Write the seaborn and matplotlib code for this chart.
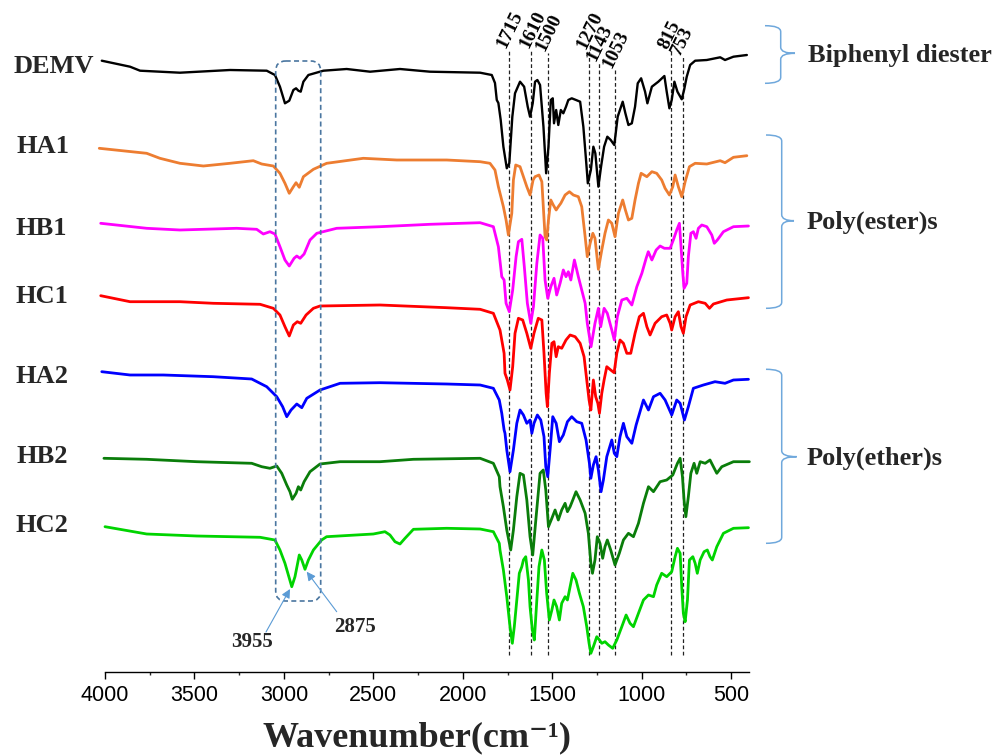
import matplotlib
matplotlib.use("Agg")
import matplotlib.pyplot as plt
import seaborn as sns
import pandas as pd
from matplotlib.path import Path
from matplotlib.patches import PathPatch, FancyBboxPatch

sns.set_style("white")
plt.rcParams["font.family"] = ["Liberation Serif", "DejaVu Serif"]

# ---------------- data (wavenumber cm-1, stacked transmittance a.u.) ----------------
sample_names = ["DEMV", "HA1", "HB1", "HC1", "HA2", "HB2", "HC2"]
sample_colors = ["#000000", "#ED7D31", "#FF00FF", "#FF0000", "#0000FF", "#0A7D0A", "#00D400"]

demv = [(4018,611.3),(3860,605.3),(3804,601.3),(3581,599.3),(3301,602),(3096,601.3),(3050,597),(3022,585.3),
        (2994,568.7),(2970,571.3),(2947,582),(2932,583.7),(2919,581.3),(2906,580.3),(2891,590.3),(2863,597),
        (2779,601.3),(2649,603),(2518,600.3),(2351,603),(2183,600.3),(1903,599.3),(1838,597),(1820,589),
        (1810,572),(1801,569),(1788,552),(1773,525.3),(1754,503.7),(1740,508.7),(1723,555.3),(1708,578.7),
        (1680,590.3),(1657,585.3),(1637,565.3),(1624,555.3),(1609,568.7),(1596,590.3),(1583,592),(1568,587),
        (1549,545.3),(1534,498.7),(1521,525.3),(1508,572),(1497,573.7),(1490,548.7),(1478,562),(1466,547),
        (1452,562),(1438,558.7),(1423,565.3),(1410,572),(1391,573.7),(1367,572),(1344,570.3),(1326,545.3),
        (1311,512),(1301,488.7),(1284,502),(1270,525.3),(1259,518.7),(1242,485.3),(1227,505.3),(1210,525.3),
        (1192,535.3),(1173,532),(1153,527),(1134,555.3),(1106,570.3),(1091,558.7),(1074,547),(1055,548.7),
        (1037,565.3),(1022,588.7),(1003,593.7),(981,580.3),(968,568.7),(943,585.3),(907,590.3),(873,596),
        (860,580.3),(845,563.7),(832,572),(817,590.3),(800,580.3),(776,572.7),(763,582),(748,595.3),
        (729,607),(701,611.3),(636,612),(561,614.7),(534,612),(487,615.3),(412,617)]

ha1 = [(4032,523.7),(3767,518.7),(3693,513.7),(3581,508.7),(3450,506),(3301,508.7),(3171,511.3),(3124,508),
       (3059,506),(3022,498.7),(2994,488.7),(2970,478.7),(2947,485.3),(2932,489.3),(2914,484.7),(2891,495.3),
       (2835,502.7),(2761,508.7),(2556,513.7),(2369,512),(2090,512),(1903,510.3),(1848,508.7),(1820,502),
       (1801,485.3),(1773,465.3),(1758,452),(1745,437),(1726,458.7),(1717,492),(1704,507),(1680,505.3),
       (1642,485.3),(1624,477),(1607,492),(1596,495.3),(1574,497),(1558,490.3),(1540,435.3),(1531,432),
       (1521,452),(1508,472),(1494,467),(1478,462),(1466,465.3),(1452,468.7),(1428,477),(1404,480.3),
       (1382,477),(1354,475.3),(1335,465.3),(1316,435.3),(1304,415.3),(1288,428.7),(1273,438.7),(1261,433.7),
       (1242,402.7),(1223,422),(1205,438.7),(1186,452),(1167,448.7),(1149,435.3),(1130,458.7),(1106,472),
       (1091,462),(1074,452),(1055,453.7),(1037,472),(1018,488.7),(1003,498.7),(971,495.3),(943,500.3),
       (916,498.7),(888,492),(869,483.7),(845,477),(826,485.3),(813,497),(795,485.3),(776,475.3),
       (757,490.3),(733,505.3),(701,508.7),(636,508),(561,511.3),(534,509.3),(487,514.7),(412,516.3)]

hb1 = [(4024,448.7),(3767,443.7),(3581,442),(3264,443.7),(3152,442.7),(3115,438),(3078,440.3),(3050,438),
       (3022,425.3),(2994,412),(2970,406),(2943,413.7),(2928,416),(2910,413.7),(2887,418),(2854,432),
       (2816,438.7),(2705,443.7),(2463,445.3),(2183,447.7),(1903,449.3),(1829,445.3),(1801,425.3),(1782,395.3),
       (1769,392),(1758,368.7),(1740,360.3),(1721,382),(1702,415.3),(1689,430.3),(1670,432.7),(1656,405.3),
       (1639,368.7),(1620,348.7),(1605,365.3),(1586,408.7),(1568,437),(1553,433.7),(1540,392),(1525,373.7),
       (1508,385.3),(1490,393.7),(1475,377),(1456,388.7),(1438,402),(1423,395.3),(1410,400.3),(1396,392),
       (1376,412),(1354,395.3),(1335,382),(1316,368.7),(1304,348.7),(1283,325.3),(1261,348.7),(1242,363.7),
       (1229,345.3),(1210,363.7),(1192,358.7),(1167,342),(1153,332),(1136,355.3),(1111,372),(1083,373.7),
       (1055,367),(1027,385.3),(999,398.7),(975,413.7),(963,420.3),(943,412),(919,422),(897,426),
       (873,423.7),(841,423.7),(823,432),(804,442),(789,448.7),(780,425.3),(770,398.7),(763,383.7),
       (748,388.7),(739,415.3),(725,438.7),(711,440.3),(696,433.7),(683,443.7),(664,447),(636,445.3),
       (608,437),(594,428.7),(577,432),(543,440.3),(487,445.3),(403,446)]

hc1 = [(4024,376.3),(3860,370.3),(3581,370.3),(3395,368.7),(3133,367.7),(3059,363.7),(3022,357),(2994,345.3),
       (2970,336),(2947,347),(2925,350.3),(2906,348.7),(2876,357),(2835,363.7),(2798,366),(2463,367),
       (2090,364.3),(1903,362.7),(1829,358.7),(1792,342),(1769,318.7),(1764,298.7),(1751,292),(1736,282),
       (1721,305.3),(1708,338.7),(1689,353.7),(1665,352),(1642,338.7),(1620,323.7),(1602,338.7),(1578,353.7),
       (1558,352),(1546,318.7),(1534,278.7),(1527,265.3),(1516,298.7),(1502,328.7),(1490,330.3),(1478,315.3),
       (1466,325.3),(1447,323.7),(1423,332),(1400,337),(1372,335.3),(1344,328.7),(1322,315.3),(1307,292),
       (1294,272),(1284,262),(1270,292),(1257,275.3),(1245,268.7),(1236,258.7),(1223,278.7),(1210,292),
       (1195,305.3),(1173,302),(1154,299.3),(1139,318.7),(1121,332),(1102,328.7),(1083,318.7),(1061,318.7),
       (1037,338.7),(1013,355.3),(990,358.7),(971,345.3),(953,337),(925,348.7),(888,355.3),(860,357),
       (841,348.7),(832,342),(813,355.3),(795,360.3),(780,345.3),(767,338.7),(752,355.3),(729,367),
       (683,370.3),(645,368.7),(621,363.7),(599,368),(524,372),(403,374.3)]

ha2 = [(4018,300.3),(3860,297),(3674,297),(3395,295.3),(3180,293),(3096,285.3),(3040,275.3),(3007,265.3),
       (2984,255.3),(2960,262),(2928,268),(2900,264.3),(2872,273.7),(2798,282),(2686,288.7),(2463,289.3),
       (2090,288),(1903,287),(1829,283.7),(1796,272),(1782,258.7),(1769,242),(1764,238.7),(1754,222),
       (1736,200.3),(1717,222),(1698,248.7),(1680,262),(1661,257),(1642,248.7),(1624,252),(1614,238.7),
       (1602,248.7),(1583,257),(1564,252),(1546,235.3),(1536,205.3),(1525,195.3),(1512,222),(1497,255.3),
       (1478,248.7),(1460,230.3),(1438,237),(1415,250.3),(1391,255.3),(1363,250.3),(1335,248.7),(1311,232),
       (1292,208.7),(1284,193.7),(1270,207),(1255,215.3),(1242,202),(1227,180.3),(1214,192),(1195,215.3),
       (1167,232),(1153,218.7),(1139,215.3),(1121,235.3),(1102,248.7),(1083,235.3),(1055,228.7),(1031,247),
       (990,272),(962,262),(934,275.3),(897,278.7),(869,272),(832,257),(804,272),(785,268.7),
       (761,252),(739,265.3),(711,283.7),(655,287),(590,290.3),(534,288.7),(487,292),(403,292.7)]

hb2 = [(4006,213.7),(3767,212.7),(3487,210.3),(3180,208.7),(3124,205.3),(3078,203.7),(3040,206),(3012,198.7),
       (2984,187),(2966,180.3),(2953,172.7),(2932,178.7),(2919,185.3),(2906,182),(2887,190.3),(2854,200.3),
       (2798,208),(2686,210.3),(2463,210.3),(2276,212.7),(1903,213.7),(1829,208.7),(1796,195.3),(1792,185.3),
       (1773,165.3),(1754,142),(1732,122),(1717,142),(1698,175.3),(1680,198.7),(1661,197),(1642,172),
       (1624,135.3),(1609,117),(1590,155.3),(1568,198.7),(1550,202),(1536,182),(1521,145.3),(1502,153.7),
       (1484,162),(1466,152),(1447,162),(1428,168.7),(1415,160.3),(1400,165.3),(1385,172),(1367,180.3),
       (1344,172),(1316,158.7),(1298,138.7),(1284,108.7),(1275,98.7),(1261,112),(1248,135.3),(1233,128.7),
       (1218,113.7),(1205,125.3),(1192,132),(1173,122),(1149,107),(1125,118.7),(1102,132),(1074,138.7),
       (1046,135.3),(1018,148.7),(990,168.7),(962,185.3),(934,180.3),(897,190.3),(860,192),(826,197),
       (800,208.7),(785,213.7),(772,195.3),(763,172),(753,155.3),(739,175.3),(725,198.7),(707,208.7),
       (692,198.7),(673,210.3),(645,208.7),(618,212),(599,205.3),(580,198.7),(552,205.3),(487,210.3),(398,210.3)]

hc2 = [(4000,145.3),(3767,138),(3487,136),(3133,134.7),(3050,132),(3022,122),(2994,108.7),(2956,85.3),
       (2938,95.3),(2914,117),(2900,112),(2882,102.7),(2863,112),(2835,122),(2789,132),(2761,135.3),
       (2500,138),(2435,140.3),(2407,137),(2379,130.3),(2351,128),(2323,133.7),(2276,142.7),(2090,143.7),
       (1903,143),(1829,140.3),(1796,128.7),(1792,122),(1773,102),(1754,75.3),(1736,45.3),(1723,28.7),
       (1712,45.3),(1698,72),(1684,98.7),(1670,105.3),(1661,112),(1648,115.3),(1633,92),(1624,65.3),
       (1611,42),(1600,32),(1586,72),(1574,105.3),(1558,122),(1544,112),(1531,78.7),(1516,52),
       (1502,62),(1490,72),(1475,65.3),(1460,52),(1447,68.7),(1428,75.3),(1415,72),(1400,85.3),
       (1385,98.7),(1367,92),(1348,78.7),(1326,65.3),(1307,45.3),(1294,28.7),(1284,18.7),(1270,25.3),
       (1251,35.3),(1236,32),(1223,28.7),(1205,30.3),(1186,27),(1162,23.7),(1139,32),(1111,45.3),
       (1087,57),(1065,48.7),(1046,45.3),(1018,58.7),(990,72),(962,77),(934,75.3),(916,87),
       (888,98.7),(860,95.3),(832,100.3),(813,115.3),(800,123.7),(785,118.7),(776,85.3),(767,58.7),
       (757,50.3),(744,72),(733,112),(714,115.3),(701,108.7),(689,98.7),(673,112),(651,120.3),
       (633,122),(618,115.3),(605,112),(580,125.3),(543,138.7),(487,143.7),(403,144.3)]

spectra = [demv, ha1, hb1, hc1, ha2, hb2, hc2]

peak_labels = ["1715", "1610", "1500", "1270", "1143", "1053", "815", "753"]
peak_marks = [1741, 1616, 1526, 1294, 1238, 1149, 836, 768]
peak_tops = [622, 622, 619, 621, 609, 602, 621, 615]
peak_bottom = 17

group_labels = ["Biphenyl diester", "Poly(ester)s", "Poly(ether)s"]
band_labels = ["3955", "2875"]

x_ticks = [4000, 3500, 3000, 2500, 2000, 1500, 1000, 500]
x_minor = [3750, 3250, 2750, 2250, 1750, 1250, 750]

# ---------------- figure ----------------
W, H = 997, 755
fig = plt.figure(figsize=(W / 100, H / 100), dpi=100)
ax = fig.add_axes([105 / W, (H - 672) / H, 644 / W, 672 / H])
ax.patch.set_alpha(0)

for name, pts, col in zip(sample_names, spectra, sample_colors):
    df = pd.DataFrame(pts, columns=["wn", "T"])
    lw = 1.7 if name == "DEMV" else 2.0
    sns.lineplot(data=df, x="wn", y="T", color=col, lw=lw, sort=False, estimator=None,
                 ax=ax, clip_on=False, solid_joinstyle="round", solid_capstyle="round", zorder=3)

for lab, xm, top in zip(peak_labels, peak_marks, peak_tops):
    ax.plot([xm, xm], [peak_bottom, top], color="#222222", lw=0.9, ls=(0, (3, 2)), zorder=2)
    ax.text(xm + 18, top + 1, lab, rotation=64, rotation_mode="anchor", ha="left", va="baseline",
            fontsize=14, fontweight="bold", color="black")

ax.set_xlim(4000, 400)
ax.set_ylim(0, 672)
ax.set_xlabel("")
ax.set_ylabel("")
ax.set_yticks([])
for s in ["left", "right", "top"]:
    ax.spines[s].set_visible(False)
ax.spines["bottom"].set_linewidth(1.0)
ax.spines["bottom"].set_color("black")
ax.set_xticks(x_ticks)
ax.set_xticklabels([str(t) for t in x_ticks], fontfamily="Liberation Sans")
ax.set_xticks(x_minor, minor=True)
ax.tick_params(axis="x", which="major", direction="out", length=5, width=1.0, pad=4.5,
               labelsize=15.5, colors="black", bottom=True)
ax.tick_params(axis="x", which="minor", direction="out", length=2.5, width=1.0, bottom=True)

# ---------------- overlay annotations (pixel layout) ----------------
ov = fig.add_axes([0, 0, 1, 1])
ov.set_xlim(0, W)
ov.set_ylim(H, 0)
ov.axis("off")
ov.patch.set_alpha(0)

name_pos = [(14, 73.3), (16, 153.3), (15, 235), (15, 303.3), (15, 383.3), (16, 463.3), (15, 531.7)]
for name, (px, py) in zip(sample_names, name_pos):
    ov.text(px, py, name, ha="left", va="baseline", fontsize=19, fontweight="bold")

brace_col = "#6FA8DC"
def brace(x0, xv, xt, ytop, ymid, ybot, r=6):
    verts = [(x0, ytop), (xv, ytop), (xv, ytop + r),
             (xv, ymid - r), (xv, ymid), (xt, ymid),
             (xv, ymid), (xv, ymid + r),
             (xv, ybot - r), (xv, ybot), (x0, ybot)]
    codes = [Path.MOVETO, Path.CURVE3, Path.CURVE3,
             Path.LINETO, Path.CURVE3, Path.CURVE3,
             Path.CURVE3, Path.CURVE3,
             Path.LINETO, Path.CURVE3, Path.CURVE3]
    ov.add_patch(PathPatch(Path(verts, codes), fill=False, ec=brace_col, lw=1.1))

brace(765, 780.7, 795, 25.7, 53.3, 83.3)
brace(766, 781.7, 794, 135, 220.7, 308.3)
brace(766, 781.7, 796.7, 369.3, 456.7, 543.3)

group_pos = [(808, 61.7), (806.7, 228.3), (806.7, 465)]
for lab, (px, py) in zip(group_labels, group_pos):
    ov.text(px, py, lab, ha="left", va="baseline", fontsize=19, fontweight="bold")

box = FancyBboxPatch((275.7, 61), 45, 540, boxstyle="round,pad=0,rounding_size=10",
                     fill=False, ec="#4A76A0", lw=1.2, ls=(0, (3, 2)))
ov.add_patch(box)

arrow_col = "#5B9BD5"
ov.annotate("", xy=(290, 589), xytext=(266, 632),
            arrowprops=dict(arrowstyle="-|>", color=arrow_col, lw=0.8, mutation_scale=13,
                            shrinkA=0, shrinkB=0))
ov.annotate("", xy=(306.7, 571.7), xytext=(336.7, 611.7),
            arrowprops=dict(arrowstyle="-|>", color=arrow_col, lw=0.8, mutation_scale=13,
                            shrinkA=0, shrinkB=0))
ov.text(230.7, 647.3, band_labels[0], ha="left", va="baseline", fontsize=15, fontweight="bold")
ov.text(334.3, 631.7, band_labels[1], ha="left", va="baseline", fontsize=15, fontweight="bold")

ov.text(417, 746, "Wavenumber(cm\u207b\u00b9)", ha="center", va="baseline",
        fontsize=26, fontweight="bold")

fig.savefig("out.png", dpi=100)
